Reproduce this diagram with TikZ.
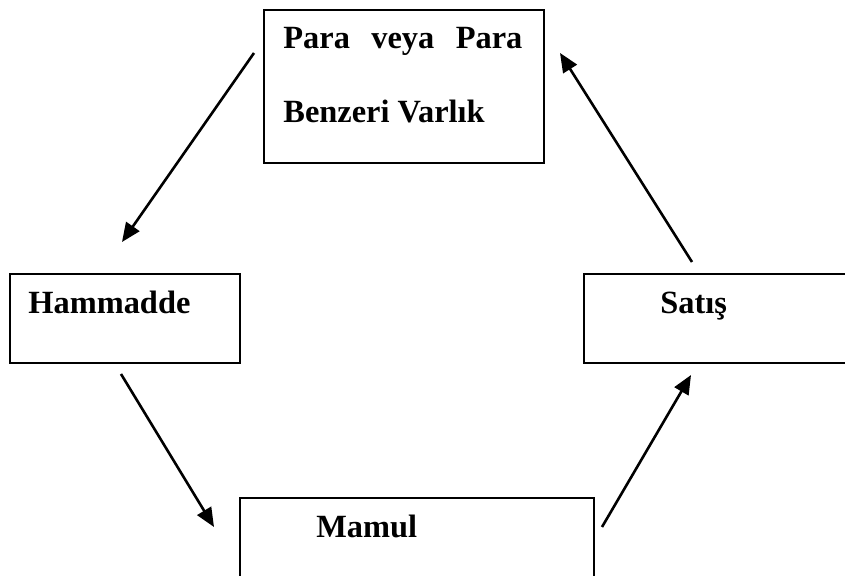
\documentclass[tikz,border=0pt]{standalone}
\usepackage{fontspec}
\setmainfont{Liberation Serif}
\usetikzlibrary{arrows.meta}
\begin{document}
\begin{tikzpicture}[x=0.5pt,y=-0.5pt,
  box/.style={draw,line width=1.1pt,inner sep=0pt,anchor=north west},
  lbl/.style={font=\bfseries\fontsize{16.2pt}{19pt}\selectfont,anchor=base west,inner sep=0pt},
  arr/.style={line width=1.3pt,-{Triangle[length=9.5pt,width=8pt]}}]
\clip (0,0) rectangle (845,576);
\fill[white] (0,0) rectangle (845,576);
% boxes
\node[box,minimum width=140pt,minimum height=76.5pt] (para) at (263,9) {};
\node[box,minimum width=115pt,minimum height=44.5pt] (ham) at (9,273) {};
\node[box,minimum width=143.5pt,minimum height=44.5pt] (sat) at (583,273) {};
\node[box,minimum width=177pt,minimum height=61.5pt] (mam) at (239,497) {};
% texts
\node[lbl] (t1) at (283,49) {\makebox[119.5pt][s]{Para veya Para}};
\node[lbl] (t2) at (283,123) {Benzeri Varlık};
\node[lbl] (t3) at (28,314) {Hammadde};
\node[lbl] (t4) at (660,314) {Satış};
\node[lbl] (t5) at (316,538) {Mamul};
% arrow ends
\coordinate (a1s) at (254,53);
\coordinate (a1e) at (122,242);
\coordinate (a2s) at (121,374);
\coordinate (a2e) at (214,527);
\coordinate (a3s) at (602,527);
\coordinate (a3e) at (691,375);
\coordinate (a4s) at (692,262);
\coordinate (a4e) at (560,53);
\draw[arr] (a1s) -- (a1e);
\draw[arr] (a2s) -- (a2e);
\draw[arr] (a3s) -- (a3e);
\draw[arr] (a4s) -- (a4e);
\end{tikzpicture}
\end{document}
